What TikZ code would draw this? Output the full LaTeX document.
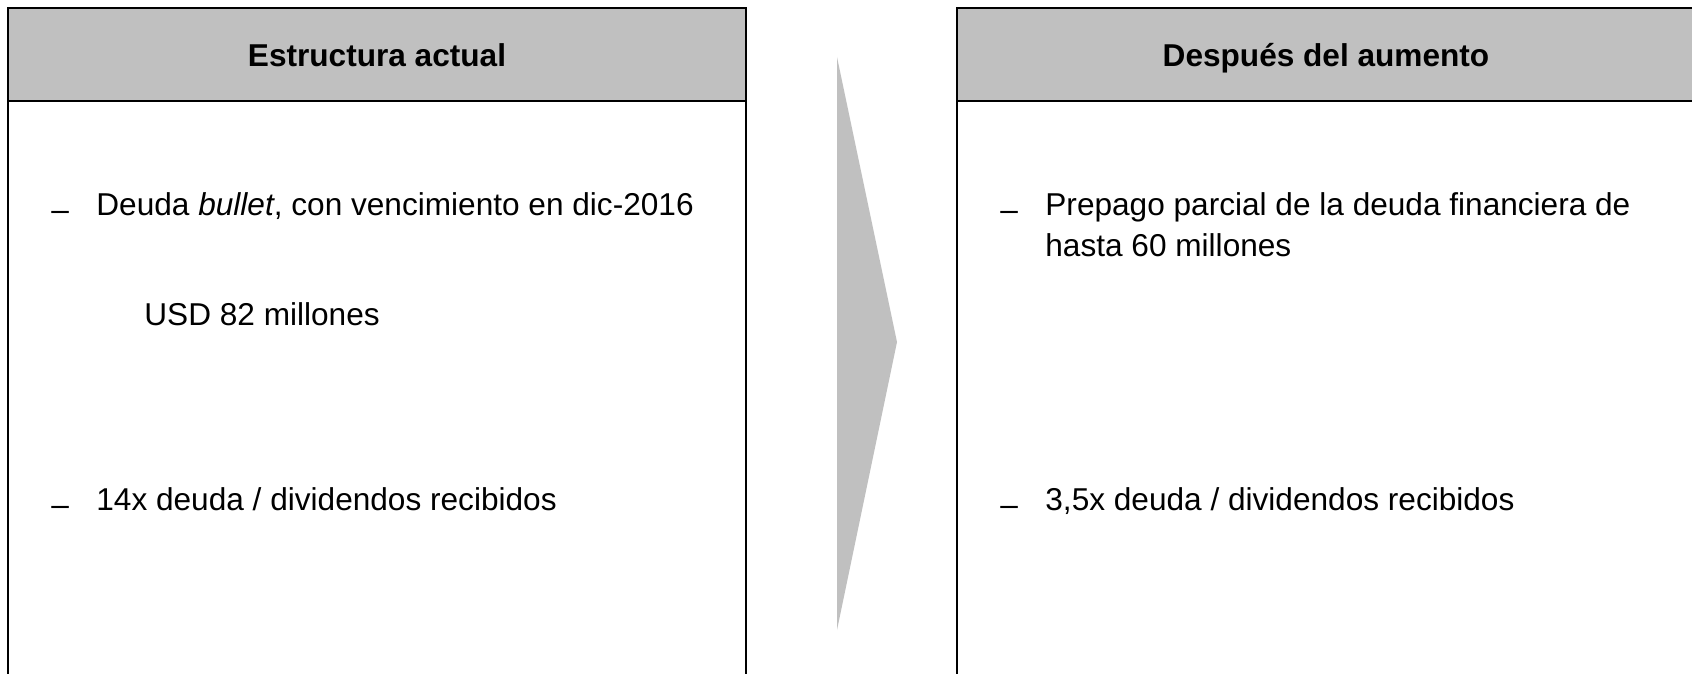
\documentclass[tikz,border=0pt]{standalone}
\usepackage{fontspec}
\setmainfont{Liberation Sans}
\definecolor{hdrgray}{RGB}{192,192,192}
\begin{document}
\begin{tikzpicture}[x=0.5pt,y=-0.5pt,
  frame/.style={draw=black,line width=1pt},
  hdrbox/.style={frame,fill=hdrgray},
  hdrtext/.style={font=\fontsize{15.8}{19}\selectfont\bfseries,inner sep=0pt,anchor=base},
  bodytext/.style={font=\fontsize{15.8}{20}\selectfont,inner sep=0pt,anchor=base west,align=left},
  dashtext/.style={bodytext,yshift=-2.6pt},
  arrowshape/.style={fill=hdrgray,draw=none},
]
\useasboundingbox (0,0) rectangle (1692,674);
\clip (0,0) rectangle (1692,674);
% left panel
\draw[frame,fill=white] (8,8) rectangle (746,720);
\draw[hdrbox] (8,8) rectangle (746,101);
\node[hdrtext] (lhead) at (377,67) {Estructura actual};
\node[dashtext] (ld1) at (51,215) {--};
\node[bodytext] (lt1) at (96,215) {Deuda \textit{bullet}, con vencimiento en dic-2016};
\node[bodytext] (lt2) at (144,325) {USD 82 millones};
\node[dashtext] (ld2) at (51,510) {--};
\node[bodytext] (lt3) at (96,510) {14x deuda / dividendos recibidos};
% arrow
\fill[arrowshape] (837,57) -- (897,342) -- (837,630) -- cycle;
% right panel
\draw[frame,fill=white] (957,8) rectangle (1696,720);
\draw[hdrbox] (957,8) rectangle (1696,101);
\node[hdrtext] (rhead) at (1326,67) {Después del aumento};
\node[dashtext] (rd1) at (1000,215) {--};
\node[bodytext] (rt1) at (1045,215) {Prepago parcial de la deuda financiera de};
\node[bodytext] (rt2) at (1045,256) {hasta 60 millones};
\node[dashtext] (rd2) at (1000,510) {--};
\node[bodytext] (rt3) at (1045,510) {3,5x deuda / dividendos recibidos};
\end{tikzpicture}
\end{document}
